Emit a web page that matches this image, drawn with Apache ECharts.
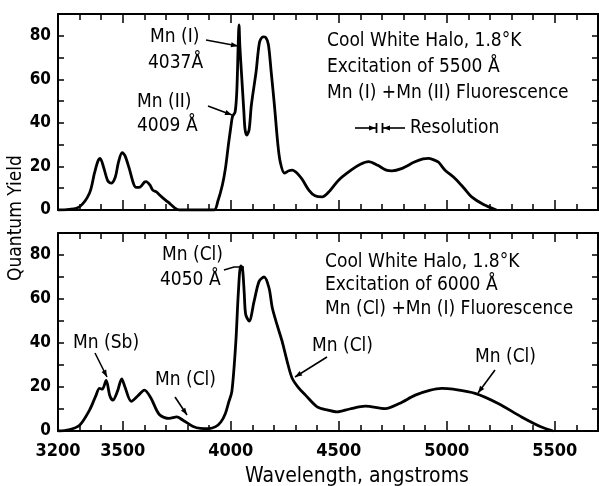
<!DOCTYPE html>
<html><head><meta charset="utf-8">
<script src="https://cdn.jsdelivr.net/npm/echarts@6/dist/echarts.min.js"></script>
<style>html,body{margin:0;padding:0;background:#fff}#c{width:599px;height:486px}</style>
</head><body><div id="c"></div>
<script>
// ---- data ----
const topWavelength = [3200,3250,3300,3346,3369,3385,3395,3410,3430,3446,3465,3480,3497,3510,3530,3550,3562,3580,3600,3608,3625,3640,3654,3680,3710,3740,3762,3850,3923,3940,3961,3975,3989,4000,4008,4020,4028,4034,4038,4042,4050,4060,4066,4074,4085,4095,4117,4133,4149,4162,4174,4187,4202,4218,4229,4248,4269,4284,4300,4315,4331,4362,4390,4423,4460,4500,4560,4600,4638,4680,4720,4746,4790,4850,4890,4915,4940,4961,4992,5038,5080,5115,5170,5230];
const topYield      = [0,0.3,1.5,7.8,17,22.5,23.7,20,13.5,12.3,15,22,26.3,25,19,12,10.4,10.5,12.8,13,11.5,9,8.4,6,3.6,1,0,0,0,4,11.5,19,30,38,43,45,55,75,85,75,62,46,37,34.4,37,48,63.4,77,79.5,79.2,76,63.4,48,30,22,17,18,18.3,17.5,16,14,9,6.5,6,9,13.8,18.5,21,22.2,20.5,18.3,18,19,22,23.5,23.7,23,22,18.3,14.5,10,6,2.5,0];
const bottomWavelength = [3200,3250,3300,3346,3375,3392,3405,3423,3440,3454,3475,3495,3510,3539,3570,3600,3630,3669,3715,3750,3777,3823,3860,3900,3930,3954,3975,3990,4005,4023,4035,4046,4054,4062,4069,4085,4108,4131,4154,4177,4192,4215,4238,4260,4284,4315,4346,4400,4450,4492,4550,4623,4715,4780,4854,4920,4977,5030,5131,5238,5346,5438,5492];
const bottomYield      = [0,0.5,2.6,9.5,16,19.4,19,23,16,14,18,23.7,20,13.5,16,18.6,15,7.5,5.7,6.4,5,2.2,1.2,1.1,2,4.1,8,13,18,40,63,75,74,63,53,50,59,68,70,65,56,48,40.6,32,24,19.5,16.3,11,9.5,8.7,10,11.3,10.2,12.5,16.3,18.5,19.4,19,17.1,12.5,6.4,1.8,0];
const xLabelValues = [3200,3500,4000,4500,5000,5500];
const xMajorTickValues = [3500,4000,4500,5000,5500];
const yLabelValues = [0,20,40,60,80];

const FONT = '"DejaVu Sans Condensed","Liberation Sans Narrow","DejaVu Sans",sans-serif';
const TICKFONT = '"Liberation Sans Narrow","DejaVu Sans Condensed",sans-serif';
const BLACK = '#000';

function pair(xs, ys){ return xs.map((x,i)=>[x, ys[i]]); }

const grids = [
  {left:58, right:1, top:14, height:196},
  {left:58, right:1, top:233, height:198}
];

function makeXAxes(gi, withLabels){
  const common = {type:'value', gridIndex:gi, min:3200, max:5700, splitLine:{show:false}};
  return [
    Object.assign({}, common, {position:'bottom', interval:100,
      axisLine:{show:true, onZero:false, lineStyle:{color:BLACK, width:2}},
      axisTick:{inside:true, length:6, lineStyle:{color:BLACK, width:1.5}},
      axisLabel: withLabels ? {show:true, customValues:xLabelValues, formatter:v=>String(v), color:BLACK, fontFamily:TICKFONT, fontSize:18, fontWeight:'bold', margin:11} : {show:false}}),
    Object.assign({}, common, {position:'bottom',
      axisLine:{show:false, onZero:false},
      axisTick:{inside:true, length:10, customValues:xMajorTickValues, lineStyle:{color:BLACK, width:1.5}},
      axisLabel:{show:false}}),
    Object.assign({}, common, {position:'top', interval:100,
      axisLine:{show:true, onZero:false, lineStyle:{color:BLACK, width:2}},
      axisTick:{inside:true, length:6, lineStyle:{color:BLACK, width:1.5}},
      axisLabel:{show:false}}),
    Object.assign({}, common, {position:'top',
      axisLine:{show:false, onZero:false},
      axisTick:{inside:true, length:9, customValues:xMajorTickValues, lineStyle:{color:BLACK, width:1.5}},
      axisLabel:{show:false}})
  ];
}
function makeYAxes(gi){
  const common = {type:'value', gridIndex:gi, min:0, max:90, interval:10, splitLine:{show:false}};
  return [
    Object.assign({}, common, {position:'left',
      axisLine:{show:true, onZero:false, lineStyle:{color:BLACK, width:2}},
      axisTick:{inside:true, length:6, lineStyle:{color:BLACK, width:1.5}},
      axisLabel:{show:true, customValues:yLabelValues, formatter:v=>String(v), color:BLACK, fontFamily:TICKFONT, fontSize:17, fontWeight:'bold', margin:7}}),
    Object.assign({}, common, {position:'right',
      axisLine:{show:true, onZero:false, lineStyle:{color:BLACK, width:2}},
      axisTick:{inside:true, length:6, lineStyle:{color:BLACK, width:1.5}},
      axisLabel:{show:false}})
  ];
}

function txt(x, y, s, extra){
  return {type:'text', x:x, y:y, style:Object.assign({text:s, fill:BLACK, font:'19px ' + FONT, textVerticalAlign:'middle', textAlign:'left'}, extra||{}), silent:true};
}
function arrow(pts, headLen){
  headLen = headLen || 7;
  const out = [{type:'polyline', shape:{points:pts}, style:{stroke:BLACK, lineWidth:1.6, fill:null}, silent:true}];
  const a = pts[pts.length-2], b = pts[pts.length-1];
  const dx = b[0]-a[0], dy = b[1]-a[1], L = Math.hypot(dx,dy);
  const ux = dx/L, uy = dy/L, w = 2.6;
  const bx = b[0]-ux*headLen, by = b[1]-uy*headLen;
  out.push({type:'polygon', shape:{points:[[b[0],b[1]],[bx-uy*w,by+ux*w],[bx+uy*w,by-ux*w]]}, style:{fill:BLACK}, silent:true});
  return out;
}

const graphic = [].concat(
  // top panel annotations
  [txt(327,41,'Cool White Halo, 1.8°K'), txt(327,67,'Excitation of 5500 Å'), txt(327,93,'Mn (I) +Mn (II) Fluorescence'), txt(410,128,'Resolution')],
  arrow([[355,128],[376,128]],7), arrow([[405,128],[383,128]],7),
  [{type:'line', shape:{x1:376.5,y1:123,x2:376.5,y2:133}, style:{stroke:BLACK,lineWidth:1.8}, silent:true},
   {type:'line', shape:{x1:382.5,y1:123,x2:382.5,y2:133}, style:{stroke:BLACK,lineWidth:1.8}, silent:true}],
  [txt(150,37,'Mn (I)'), txt(148,63,'4037Å'), txt(137,102,'Mn (II)'), txt(137,126,'4009 Å')],
  arrow([[206,40],[238,46]]), arrow([[208,106],[232,115]]),
  // bottom panel annotations
  [txt(325,262,'Cool White Halo, 1.8°K'), txt(325,285,'Excitation of 6000 Å'), txt(325,309,'Mn (Cl) +Mn (I) Fluorescence')],
  [txt(162,255,'Mn (Cl)'), txt(160,280,'4050 Å')],
  [{type:'polyline', shape:{points:[[224,270],[234,267],[244,267]]}, style:{stroke:BLACK,lineWidth:1.6,fill:null}, silent:true}],
  [txt(73,343,'Mn (Sb)')], arrow([[95,353],[107,377]]),
  [txt(155,380,'Mn (Cl)')], arrow([[175,397],[187,415]]),
  [txt(312,346,'Mn (Cl)')], arrow([[327,357],[295,377]]),
  [txt(475,357,'Mn (Cl)')], arrow([[495,370],[478,393]]),
  // axis titles
  [{type:'text', x:16, y:218, rotation:Math.PI/2, style:{text:'Quantum Yield', fill:BLACK, font:'19px ' + FONT, textAlign:'center', textVerticalAlign:'middle'}, silent:true},
   {type:'text', x:357, y:477, style:{text:'Wavelength, angstroms', fill:BLACK, font:'21px ' + FONT, textAlign:'center', textVerticalAlign:'middle'}, silent:true}]
);

const chart = echarts.init(document.getElementById('c'), null, {renderer:'canvas'});
chart.setOption({
  animation:false,
  backgroundColor:'#fff',
  grid: grids,
  xAxis: makeXAxes(0,false).concat(makeXAxes(1,true)),
  yAxis: makeYAxes(0).concat(makeYAxes(1)),
  series: [
    {type:'line', xAxisIndex:0, yAxisIndex:0, data:pair(topWavelength, topYield), smooth:0.3, showSymbol:false, lineStyle:{color:BLACK, width:2.8}},
    {type:'line', xAxisIndex:4, yAxisIndex:2, data:pair(bottomWavelength, bottomYield), smooth:0.3, showSymbol:false, lineStyle:{color:BLACK, width:2.8}}
  ],
  graphic: graphic
});
</script>
</body></html>
